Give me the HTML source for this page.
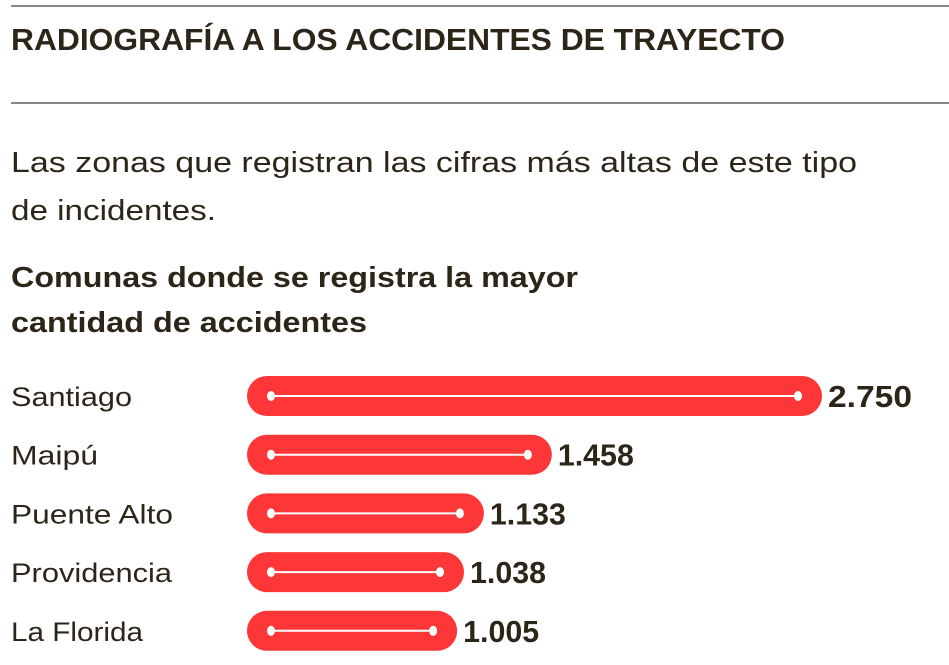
<!DOCTYPE html>
<html><head><meta charset="utf-8"><style>
html,body{margin:0;padding:0;background:#fff;}
svg{display:block;font-family:"Liberation Sans",sans-serif;}
</style></head><body>
<svg id="chart" width="949" height="665" viewBox="0 0 949 665">
<line x1="11" y1="6" x2="949" y2="6" stroke="#8d8782" stroke-width="2"/>
<text x="11" y="50" font-size="31" font-weight="bold" fill="#2e2519" textLength="774" lengthAdjust="spacingAndGlyphs">RADIOGRAFÍA A LOS ACCIDENTES DE TRAYECTO</text>
<line x1="11" y1="103" x2="949" y2="103" stroke="#8d8782" stroke-width="2"/>
<text x="11" y="172" font-size="29" fill="#2e2519" textLength="846" lengthAdjust="spacingAndGlyphs">Las zonas que registran las cifras más altas de este tipo</text>
<text x="11" y="220" font-size="29" fill="#2e2519" textLength="205" lengthAdjust="spacingAndGlyphs">de incidentes.</text>
<text x="11" y="287" font-size="29" font-weight="bold" fill="#2e2519" textLength="567" lengthAdjust="spacingAndGlyphs">Comunas donde se registra la mayor</text>
<text x="11" y="332" font-size="29" font-weight="bold" fill="#2e2519" textLength="356" lengthAdjust="spacingAndGlyphs">cantidad de accidentes</text>
<g id="bars"></g>
</svg>
<script>
const categories = ["Santiago","Maipú","Puente Alto","Providencia","La Florida"];
const values = [2750,1458,1133,1038,1005];
const valueLabels = ["2.750","1.458","1.133","1.038","1.005"];
const labelWidths = [121,87,162,161,132];
const NS="http://www.w3.org/2000/svg";
const x0=247, xScale=v=>v*(575/2750);
const yCenter=i=>396+i*58.7;
const g=document.getElementById('bars');
function mk(t,a){const e=document.createElementNS(NS,t);for(const k in a)e.setAttribute(k,a[k]);g.appendChild(e);return e;}
categories.forEach((c,i)=>{
  const cy=yCenter(i), w=xScale(values[i]);
  const lab=mk('text',{x:11,y:cy+10,'font-size':27,fill:'#2e2519',textLength:labelWidths[i],lengthAdjust:'spacingAndGlyphs'});
  lab.textContent=c;
  
  
  const bar=mk('rect',{x:x0,y:cy-20,width:w,height:40,rx:20,fill:'#fd3737'});
  
  
  const ln=mk('line',{x1:x0+24,y1:cy,x2:x0+w-24,y2:cy,stroke:'#fff','stroke-width':2});
  
  
  [x0+24,x0+w-24].forEach(x=>{
    const d=mk('ellipse',{cx:x,cy:cy,rx:4,ry:5,fill:'#fff'});
    
    
  });
  const v=mk('text',{x:x0+w+6,y:cy+11,'font-size':31,'font-weight':'bold',fill:'#2e2519',textLength:valueLabels[i].startsWith('1.')?76:84,lengthAdjust:'spacingAndGlyphs'});
  v.textContent=valueLabels[i];
  
  
});
</script>
</body></html>
